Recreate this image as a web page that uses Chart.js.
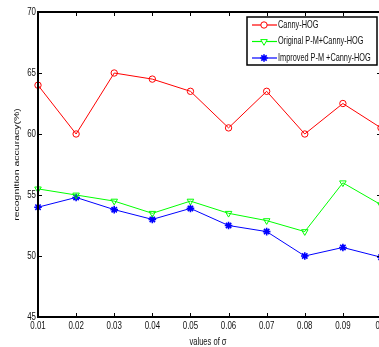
<!DOCTYPE html>
<html>
<head>
<meta charset="utf-8">
<script src="https://cdn.jsdelivr.net/npm/chart.js@4/dist/chart.umd.min.js"></script>
<style>
  html, body { margin: 0; padding: 0; overflow: hidden; background: #fff; width: 379px; height: 347px; }
  #wrap { position: relative; width: 400px; height: 347px; }
</style>
</head>
<body>
<div id="wrap"><canvas id="chart" width="400" height="347"></canvas></div>
<script>
// データ
const sigmaLabels = ['0.01', '0.02', '0.03', '0.04', '0.05', '0.06', '0.07', '0.08', '0.09', '0.1'];
const cannyHog = [64, 60, 65, 64.5, 63.5, 60.5, 63.5, 60, 62.5, 60.5];
const originalPM = [55.5, 55, 54.5, 53.5, 54.5, 53.5, 52.9, 52, 56, 54.2];
const improvedPM = [54, 54.8, 53.8, 53, 53.9, 52.5, 52, 50, 50.7, 49.9];
const yTicks = [45, 50, 55, 60, 65, 70];
const xTitle = 'values of σ';
const yTitle = 'recognition accuracy(%)';

const FONT = "'Liberation Sans', Arial, sans-serif";
const SQUEEZE = 0.72; // 元図は横方向に詰まっている

// 横に詰めた文字を描く
function drawText(ctx, text, x, y, align, size) {
    ctx.save();
    ctx.translate(x, y);
    ctx.scale(SQUEEZE, 1);
    ctx.font = size + 'px ' + FONT;
    ctx.textAlign = align;
    ctx.textBaseline = 'middle';
    ctx.fillStyle = '#111';
    ctx.fillText(text, 0, 0);
    ctx.restore();
}

// 枠と内向きの目盛り、目盛りラベル、軸タイトル
const framePlugin = {
    id: 'frame',
    afterDatasetsDraw(chart) {
        const ctx = chart.ctx;
        const a = chart.chartArea;
        const xs = chart.scales.x;
        const ys = chart.scales.y;
        ctx.save();
        ctx.strokeStyle = '#000';
        ctx.lineWidth = 1;
        xs.ticks.forEach((t, i) => {
            const px = Math.round(xs.getPixelForTick(i)) + 0.5;
            ctx.beginPath();
            ctx.moveTo(px, a.bottom); ctx.lineTo(px, a.bottom - 4);
            ctx.moveTo(px, a.top); ctx.lineTo(px, a.top + 4);
            ctx.stroke();
            drawText(ctx, sigmaLabels[i], xs.getPixelForTick(i), a.bottom + 9, 'center', 11);
        });
        ys.ticks.forEach((t, i) => {
            const py = Math.round(ys.getPixelForTick(i)) + 0.5;
            ctx.beginPath();
            ctx.moveTo(a.left, py); ctx.lineTo(a.left + 4, py);
            ctx.moveTo(a.right, py); ctx.lineTo(a.right - 4, py);
            ctx.stroke();
            drawText(ctx, String(t.value), a.left - 2, ys.getPixelForTick(i), 'right', 11);
        });
        ctx.lineWidth = 2;
        ctx.strokeRect(a.left, a.top, a.right - a.left, a.bottom - a.top);

        // 軸タイトル
        drawText(ctx, xTitle, 208, a.bottom + 25, 'center', 10.5);
        ctx.save();
        ctx.translate(17, (a.top + a.bottom) / 2);
        ctx.rotate(-Math.PI / 2);
        ctx.scale(1, SQUEEZE);
        ctx.font = '10.5px ' + FONT;
        ctx.textAlign = 'center';
        ctx.textBaseline = 'middle';
        ctx.fillStyle = '#111';
        ctx.fillText(yTitle, 0, 0);
        ctx.restore();
        ctx.restore();
    }
};

// 凡例（線＋マーカー）
const legendPlugin = {
    id: 'boxLegend',
    afterDraw(chart) {
        const ctx = chart.ctx;
        const x0 = 247, y0 = 17, w = 130, h = 48;
        ctx.save();
        ctx.fillStyle = '#fff';
        ctx.fillRect(x0, y0, w, h);
        ctx.strokeStyle = '#000';
        ctx.lineWidth = 1.5;
        ctx.strokeRect(x0, y0, w, h);
        chart.data.datasets.forEach((ds, i) => {
            const y = y0 + 8 + i * 16.5;
            ctx.strokeStyle = ds.borderColor;
            ctx.lineWidth = 1.2;
            ctx.beginPath();
            ctx.moveTo(x0 + 5, y); ctx.lineTo(x0 + 30, y);
            ctx.stroke();
            ctx.fillStyle = ds.pointStyle === 'star' ? ds.borderColor : '#fff';
            ctx.lineWidth = ds.pointBorderWidth || 1;
            Chart.helpers.drawPoint(ctx, {
                pointStyle: ds.pointStyle,
                rotation: ds.pointRotation || 0,
                radius: ds.pointRadius,
                borderWidth: ds.pointBorderWidth || 1
            }, x0 + 17, y);
            drawText(ctx, ds.label, x0 + 31, y, 'left', 10.2);
        });
        ctx.restore();
    }
};

new Chart(document.getElementById('chart'), {
    type: 'line',
    data: {
        labels: sigmaLabels,
        datasets: [{
            label: 'Canny-HOG',
            data: cannyHog,
            borderColor: '#ff0000',
            backgroundColor: 'rgba(0,0,0,0)',
            pointBackgroundColor: 'rgba(0,0,0,0)',
            borderWidth: 1,
            pointStyle: 'circle',
            pointRadius: 3.2,
            pointBorderWidth: 1,
            tension: 0
        }, {
            label: 'Original P-M+Canny-HOG',
            data: originalPM,
            borderColor: '#00ff00',
            backgroundColor: 'rgba(0,0,0,0)',
            pointBackgroundColor: 'rgba(0,0,0,0)',
            borderWidth: 1,
            pointStyle: 'triangle',
            pointRotation: 180,
            pointRadius: 3.8,
            pointBorderWidth: 1,
            tension: 0
        }, {
            label: 'Improved P-M +Canny-HOG',
            data: improvedPM,
            borderColor: '#0000ff',
            backgroundColor: '#0000ff',
            borderWidth: 1,
            pointStyle: 'star',
            pointRadius: 3.8,
            pointBorderWidth: 1.6,
            tension: 0
        }]
    },
    options: {
        responsive: false,
        animation: false,
        layout: { padding: { top: 12, right: 19, left: 0, bottom: 0 } },
        plugins: {
            legend: { display: false },
            tooltip: { enabled: false }
        },
        scales: {
            x: {
                type: 'category',
                offset: false,
                grid: { display: false, drawTicks: false, tickLength: 0 },
                border: { display: false },
                ticks: { display: false, autoSkip: false },
                afterFit(scale) { scale.height = 30; }
            },
            y: {
                min: yTicks[0],
                max: yTicks[yTicks.length - 1],
                grid: { display: false, drawTicks: false, tickLength: 0 },
                border: { display: false },
                afterBuildTicks(scale) { scale.ticks = yTicks.map(v => ({ value: v })); },
                ticks: { display: false },
                afterFit(scale) { scale.width = 38; }
            }
        }
    },
    plugins: [framePlugin, legendPlugin]
});
</script>
</body>
</html>
